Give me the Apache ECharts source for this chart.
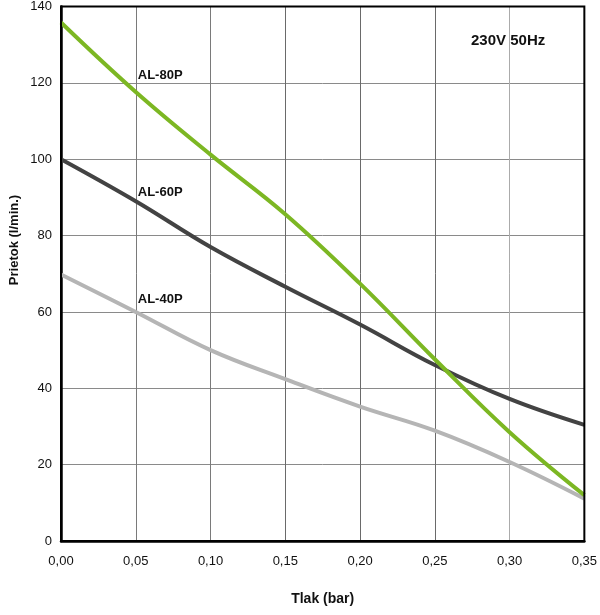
<!DOCTYPE html>
<html>
<head>
<meta charset="utf-8">
<script src="https://cdn.jsdelivr.net/npm/echarts@6/dist/echarts.min.js"></script>
<style>
html,body{margin:0;padding:0;background:#fff;}
#chart{width:600px;height:615px;}
</style>
</head>
<body>
<div id="chart"></div>
<script>
var pressures = [0.00, 0.05, 0.10, 0.15, 0.20, 0.25, 0.30, 0.35];
var al80 = [135.8, 117.6, 101.2, 85.6, 67.4, 47.6, 28.5, 12.0];
var al60 = [100.0, 89.0, 77.0, 66.6, 56.7, 46.1, 37.2, 30.4];
var al40 = [69.8, 60.0, 50.0, 42.4, 35.2, 28.9, 20.7, 11.1];
var seriesNames = ['AL-80P', 'AL-60P', 'AL-40P'];
var labelAnchors = [[0.05, 122], [0.05, 91.3], [0.05, 63.3]];
var yTicks = [0, 20, 40, 60, 80, 100, 120, 140];
var xTicks = ['0,00', '0,05', '0,10', '0,15', '0,20', '0,25', '0,30', '0,35'];
var subtitle = '230V 50Hz';
var xName = 'Tlak (bar)';
var yName = 'Prietok (l/min.)';

var FONT = '"Liberation Sans", Arial, sans-serif';
var colors = ['#7cb723', '#434343', '#b5b5b5'];
var allData = [al80, al60, al40];

function pairs(vals) {
  return pressures.map(function (p, i) { return [p, vals[i]]; });
}

var chart = echarts.init(document.getElementById('chart'), null, {renderer: 'canvas'});

var series = allData.map(function (vals, k) {
  return {
    name: seriesNames[k],
    type: 'line',
    data: pairs(vals),
    smooth: 0.4,
    showSymbol: false,
    symbol: 'none',
    lineStyle: {color: colors[k], width: 4},
    z: 3 - k + 2,
    markPoint: {
      symbol: 'circle',
      symbolSize: 0,
      data: [{coord: labelAnchors[k]}],
      label: {
        show: true,
        position: 'right',
        distance: 2,
        formatter: seriesNames[k],
        color: '#111',
        fontFamily: FONT,
        fontWeight: 'bold',
        fontSize: 13
      }
    }
  };
});

chart.setOption({
  animation: false,
  backgroundColor: '#fff',
  grid: {
    left: 61, right: 13, top: 4, bottom: 74,
    show: true, borderColor: '#000', borderWidth: 2, backgroundColor: 'transparent', z: 10
  },
  xAxis: {
    type: 'value',
    min: 0, max: 0.35, interval: 0.05,
    axisLine: {show: true, lineStyle: {color: '#000', width: 2.5}},
    axisTick: {show: false},
    axisLabel: {
      color: '#111', fontFamily: FONT, fontSize: 13, margin: 14,
      formatter: function (v) { var i = Math.round(v / 0.05); return xTicks[i]; }
    },
    splitLine: {show: true, showMinLine: false, showMaxLine: false,
      lineStyle: {color: ['#7a7a7a', '#7a7a7a', '#6a6a6a', '#6a6a6a', '#6a6a6a', '#ababab'], width: 1}},
    name: xName,
    nameLocation: 'middle',
    nameGap: 51,
    nameTextStyle: {color: '#111', fontFamily: FONT, fontWeight: 'bold', fontSize: 14}
  },
  yAxis: {
    type: 'value',
    min: 0, max: 140, interval: 20,
    axisLine: {show: true, lineStyle: {color: '#000', width: 2.5}},
    axisTick: {show: false},
    axisLabel: {
      color: '#111', fontFamily: FONT, fontSize: 13, margin: 9,
      formatter: function (v) { return yTicks.indexOf(v) >= 0 ? String(v) : ''; }
    },
    splitLine: {show: true, showMinLine: false, showMaxLine: false, lineStyle: {color: '#8a8a8a', width: 1}}
  },
  graphic: [
    {
      type: 'text',
      left: 471, top: 33,
      style: {text: subtitle, fill: '#111', font: 'bold 15px ' + FONT}
    },
    {
      type: 'text',
      x: 14, y: 240,
      rotation: Math.PI / 2,
      style: {text: yName, fill: '#111', font: 'bold 13px ' + FONT, align: 'center', verticalAlign: 'middle'}
    }
  ],
  series: series
});
</script>
</body>
</html>
